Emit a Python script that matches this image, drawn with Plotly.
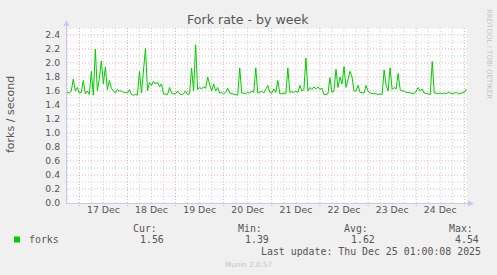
import plotly.graph_objects as go
import pandas as pd

# ---- data (hourly samples) ----
start_time = "2025-12-16 18:00"
forks = [
    1.58, 1.57, 1.60, 1.77, 1.60, 1.65, 1.57, 1.58, 1.75, 1.56,
    1.60, 1.55, 1.88, 1.54, 2.20, 1.60, 1.78, 2.03, 1.70, 1.94,
    1.62, 1.75, 1.64, 1.60, 1.57, 1.62, 1.60, 1.60, 1.58, 1.58,
    1.57, 1.62, 1.55, 1.54, 1.55, 1.54, 1.88, 1.57, 1.93, 2.21,
    1.60, 1.72, 1.68, 1.74, 1.70, 1.73, 1.66, 1.70, 1.56, 1.55,
    1.55, 1.65, 1.57, 1.56, 1.56, 1.60, 1.56, 1.55, 1.56, 1.60,
    1.55, 1.56, 1.93, 1.60, 2.26, 1.62, 1.65, 1.63, 1.66, 1.64,
    1.80, 1.70, 1.60, 1.70, 1.60, 1.65, 1.57, 1.58, 1.56, 1.58,
    1.64, 1.57, 1.56, 1.55, 1.55, 1.54, 1.93, 1.57, 1.57, 1.56,
    1.58, 1.57, 1.60, 1.58, 1.93, 1.57, 1.58, 1.60, 1.57, 1.62,
    1.68, 1.58, 1.57, 1.63, 1.58, 1.75, 1.56, 1.56, 1.57, 1.56,
    1.93, 1.58, 1.59, 1.58, 1.60, 1.58, 1.68, 1.60, 1.62, 2.07,
    1.60, 1.65, 1.62, 1.66, 1.63, 1.66, 1.62, 1.64, 1.55, 1.55,
    1.56, 1.79, 1.58, 1.60, 1.91, 1.65, 1.80, 1.70, 1.95, 1.65,
    1.75, 1.88, 1.80, 1.60, 1.60, 1.68, 1.58, 1.58, 1.57, 1.68,
    1.60, 1.57, 1.56, 1.56, 1.56, 1.55, 1.56, 1.55, 1.90, 1.68,
    1.60, 1.93, 1.62, 1.65, 1.63, 1.85, 1.62, 1.60, 1.60, 1.58,
    1.58, 1.57, 1.56, 1.56, 1.60, 1.65, 1.60, 1.63, 1.57, 1.56,
    1.56, 1.55, 2.02, 1.57, 1.57, 1.56, 1.57, 1.56, 1.57, 1.56,
    1.58, 1.57, 1.56, 1.57, 1.58, 1.56, 1.57, 1.57, 1.58, 1.63,
]
times = pd.date_range(start_time, periods=len(forks), freq="h")

series_name = "forks"
stat_labels = ["Cur:", "Min:", "Avg:", "Max:"]
stat_values = ["1.56", "1.39", "1.62", "4.54"]
title = "Fork rate - by week"
y_title = "forks / second"
last_update = "Last update: Thu Dec 25 01:00:08 2025"
footer = "Munin 2.0.57"
side_text = "RRDTOOL / TOBI OETIKER"

x_range = ["2025-12-16 17:52", "2025-12-25 01:20"]
y_max = 2.5
major_x = pd.date_range("2025-12-17", "2025-12-25", freq="D")
minor_x = [t for t in pd.date_range("2025-12-16 18:00", "2025-12-25 00:00", freq="6h")
           if t.hour != 0]
major_y = [round(0.2 * k, 1) for k in range(1, 13)]
minor_y = [round(0.1 * k, 1) for k in range(1, 26, 2)]

# ---- layout geometry (pixels) ----
FW, FH = 497, 275
L, T, W, H = 67, 28, 400, 175
R, B = FW - L - W, FH - T - H


def px(x):
    return (x - L) / W


def py(y):
    return (T + H - y) / H


TXT = "#555555"
SANS = "DejaVu Sans"
MONO = "DejaVu Sans Mono"
MAJOR = "rgba(228,140,140,0.7)"
MINOR = "rgba(200,200,200,0.85)"
AXIS = "#c8c8f0"
DASH = "1px,2px"

fig = go.Figure()
fig.add_trace(go.Scatter(
    x=times, y=forks, mode="lines", name=series_name,
    line=dict(color="#00cc00", width=1), hoverinfo="skip",
))

fig.update_layout(
    width=FW, height=FH,
    margin=dict(l=L, r=R, t=T, b=B, pad=0),
    paper_bgcolor="#f0f0f0", plot_bgcolor="#ffffff",
    showlegend=False,
    font=dict(family=SANS, size=9.3, color=TXT),
)

fig.update_xaxes(
    range=x_range,
    tick0="2025-12-17", dtick=86400000,
    ticklabelmode="period", tickformat="%d %b",
    showgrid=False, showline=False, zeroline=False, ticks="",
    tickfont=dict(family=SANS, size=9.3, color=TXT),
)
fig.update_yaxes(
    range=[0, y_max], tick0=0, dtick=0.2, tickformat=".1f",
    showgrid=False, showline=False, zeroline=False, ticks="outside", ticklen=4,
    tickcolor="rgba(0,0,0,0)",
    tickfont=dict(family=SANS, size=9.3, color=TXT),
)

shapes = []
for t in minor_x:
    shapes.append(dict(type="line", xref="x", yref="paper", x0=t, x1=t, y0=0, y1=1,
                       layer="below", line=dict(color=MINOR, width=1, dash=DASH)))
for v in minor_y:
    shapes.append(dict(type="line", xref="paper", yref="y", x0=0, x1=1, y0=v, y1=v,
                       layer="below", line=dict(color=MINOR, width=1, dash=DASH)))
for t in major_x:
    shapes.append(dict(type="line", xref="x", yref="paper", x0=t, x1=t, y0=py(206), y1=1,
                       layer="below", line=dict(color=MAJOR, width=1, dash=DASH)))
for v in major_y:
    shapes.append(dict(type="line", xref="paper", yref="y", x0=0, x1=1, y0=v, y1=v,
                       layer="below", line=dict(color=MAJOR, width=1, dash=DASH)))

shapes += [
    # y axis line + arrow
    dict(type="line", xref="paper", yref="paper", x0=px(66.5), x1=px(66.5),
         y0=py(203.5), y1=py(24), line=dict(color=AXIS, width=1)),
    dict(type="path", xref="paper", yref="paper",
         path=f"M {px(63.5)} {py(26)} L {px(69.5)} {py(26)} L {px(66.5)} {py(20)} Z",
         fillcolor=AXIS, line=dict(color=AXIS, width=0)),
    # x axis line + arrow
    dict(type="line", xref="paper", yref="paper", x0=px(66.5), x1=px(470),
         y0=py(203.5), y1=py(203.5), line=dict(color=AXIS, width=1)),
    dict(type="path", xref="paper", yref="paper",
         path=f"M {px(468)} {py(200.5)} L {px(468)} {py(206.5)} L {px(474)} {py(203.5)} Z",
         fillcolor=AXIS, line=dict(color=AXIS, width=0)),
    # legend colour square
    dict(type="rect", xref="paper", yref="paper", x0=px(14), x1=px(20),
         y0=py(242.5), y1=py(236.5), fillcolor="#00cc00", line=dict(width=0)),
]
fig.update_layout(shapes=shapes)

ann = []


def text(x, y, s, size, family, color=TXT, xanchor="left", angle=0):
    ann.append(dict(x=px(x), y=py(y), xref="paper", yref="paper", text=s,
                    showarrow=False, xanchor=xanchor, yanchor="middle",
                    textangle=angle,
                    font=dict(family=family, size=size, color=color)))


text(248, 19.5, title, 12.6, SANS, xanchor="center")
text(10, 115, y_title, 11, SANS, xanchor="center", angle=-90)
text(489, 54, side_text, 7, SANS, color="#c4c4c4", xanchor="center", angle=90)

text(26.5, 239.5, series_name, 9.9, MONO)
stat_label_x = [131, 236, 342, 447]
stat_value_x = [137.5, 242.5, 349, 453]
for lab, val, lx, vx in zip(stat_labels, stat_values, stat_label_x, stat_value_x):
    text(lx, 228.5, lab, 9.9, MONO)
    text(vx, 239.5, val, 9.9, MONO)
text(482.5, 251, last_update, 9.9, MONO, xanchor="right")
text(248, 264, footer, 7.2, SANS, color="#c4c4c4", xanchor="center")

fig.update_layout(annotations=ann)
fig.write_html("out.html")
